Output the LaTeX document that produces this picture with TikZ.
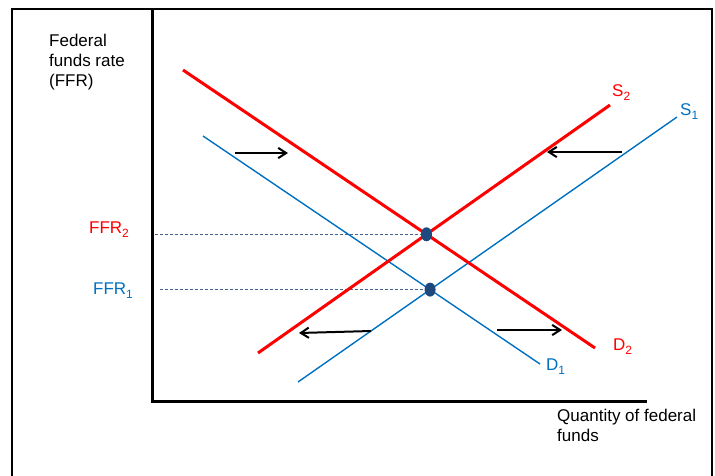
\documentclass[tikz,border=0pt]{standalone}
\usepackage{fontspec}
\setmainfont{Liberation Sans}
\usepackage{xcolor}
\usetikzlibrary{arrows.meta,shapes.geometric}
\definecolor{curvered}{RGB}{255,0,0}
\definecolor{curveblue}{RGB}{0,112,192}
\definecolor{dotnavy}{RGB}{31,73,125}
\newcommand{\lowidx}[1]{\raisebox{-4pt}{\fontsize{12}{12}\selectfont #1}}

\begin{document}
\begin{tikzpicture}[x=1pt,y=-1pt,>={Straight Barb[length=2.8mm,width=3.6mm]},
  lbl/.style={anchor=base west,inner sep=0pt,font=\fontsize{17}{20}\selectfont},
  redline/.style={curvered,line width=3pt},
  blueline/.style={curveblue,line width=1.4pt},
  movearrow/.style={->,line width=2pt},
  guide/.style={dotnavy!85,line width=0.9pt,dash pattern=on 3pt off 2pt},
  eqdot/.style={ellipse,fill=dotnavy,inner sep=0pt,minimum width=11pt,minimum height=14pt}]
\useasboundingbox (0,0) rectangle (715,475);
% frame and axes
\coordinate (fsw) at (12,478);
\coordinate (fnw) at (12,9);
\coordinate (fne) at (712,9);
\coordinate (fse) at (712,478);
\draw[line width=2pt] (fsw) -- (fnw) -- (fne) -- (fse);
\coordinate (ytop) at (152,9);
\coordinate (origin) at (152,401);
\coordinate (xend) at (647,401);
\draw[line width=3pt] (ytop) -- (origin) -- (xend);
% demand and supply
\coordinate (d2a) at (183,70);  \coordinate (d2b) at (595,348);
\coordinate (d1a) at (203,136); \coordinate (d1b) at (540,364);
\coordinate (s2a) at (258,353); \coordinate (s2b) at (610,105);
\coordinate (s1a) at (298,382); \coordinate (s1b) at (677,117);
\coordinate (x2) at (intersection of d2a--d2b and s2a--s2b);
\coordinate (x1) at (intersection of d1a--d1b and s1a--s1b);
\coordinate (g2) at (155,0);
\coordinate (g1) at (160,0);
\draw[guide] (x2 -| g2) -- (x2);
\draw[guide] (x1 -| g1) -- (x1);
\draw[blueline] (d1a) -- (d1b);
\draw[blueline] (s1a) -- (s1b);
\draw[redline] (d2a) -- (d2b);
\draw[redline] (s2a) -- (s2b);
\node[eqdot] (eq2) at (x2) {};
\node[eqdot] (eq1) at (x1) {};
% shifts
\coordinate (m1a) at (235,153); \coordinate (m1b) at (288,153);
\coordinate (m2a) at (622,152); \coordinate (m2b) at (547,152);
\coordinate (m3a) at (371,331); \coordinate (m3b) at (299,333);
\coordinate (m4a) at (497,330); \coordinate (m4b) at (562,330);
\draw[movearrow] (m1a) -- (m1b);
\draw[movearrow] (m2a) -- (m2b);
\draw[movearrow] (m3a) -- (m3b);
\draw[movearrow] (m4a) -- (m4b);
% labels
\node[lbl,anchor=north west,align=left] (ylbl) at (49,33.5) {Federal\\funds rate\\(FFR)};
\node[lbl,anchor=north west,align=left] (xlbl) at (557,408.5) {Quantity of federal\\funds};
\node[lbl,curvered] (ffr2) at (89,233) {FFR\lowidx{2}};
\node[lbl,curveblue] (ffr1) at (93,294) {FFR\lowidx{1}};
\node[lbl,curvered] (s2lbl) at (612,96) {S\lowidx{2}};
\node[lbl,curveblue] (s1lbl) at (680,115.5) {S\lowidx{1}};
\node[lbl,curvered] (d2lbl) at (613,350.5) {D\lowidx{2}};
\node[lbl,curveblue] (d1lbl) at (546,370) {D\lowidx{1}};
\end{tikzpicture}
\end{document}
